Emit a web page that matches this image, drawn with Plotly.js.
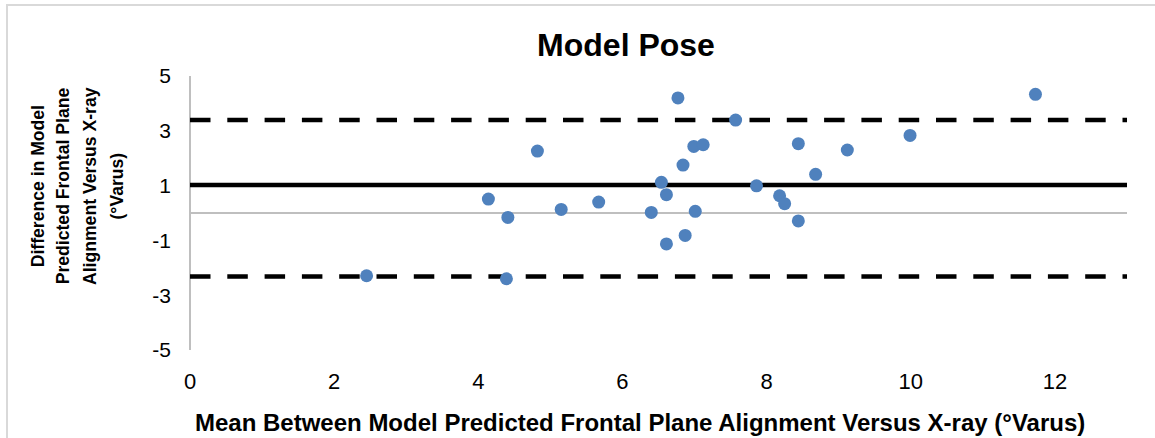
<!DOCTYPE html>
<html>
<head>
<meta charset="utf-8">
<script src="https://cdn.plot.ly/plotly-3.0.1.min.js"></script>
<style>
  html, body { margin: 0; padding: 0; background: #ffffff; }
  #wrap { position: relative; width: 1155px; height: 438px; overflow: hidden; }
  #chart { position: absolute; left: 0; top: 0; width: 1155px; height: 438px; }
  #frame { position: absolute; left: 6px; top: 4px; width: 1160px; height: 450px;
           border: 2px solid #D9D9D9; box-sizing: border-box; pointer-events: none; }
</style>
</head>
<body>
<div id="wrap">
  <div id="chart"></div>
  <div id="frame"></div>
</div>
<script>
// ---- Data ----
var meanValues = [6.77, 4.82, 6.84, 6.54, 6.61, 4.14, 4.41, 5.15, 5.67, 6.40, 6.61, 2.45, 4.39,
                  11.73, 7.57, 6.99, 7.12, 8.44, 9.99, 9.12, 8.68, 7.86, 8.18, 8.25, 8.44, 7.01, 6.87];
var diffValues = [4.20, 2.26, 1.75, 1.12, 0.67, 0.51, -0.16, 0.13, 0.40, 0.02, -1.13, -2.29, -2.40,
                  4.33, 3.39, 2.43, 2.49, 2.53, 2.83, 2.30, 1.41, 0.99, 0.63, 0.34, -0.29, 0.06, -0.82];
var lineSpanX = [0, 13];
var meanDiff = 1.02;
var upperLoA = 3.39;
var lowerLoA = -2.32;

var chartTitle = "Model Pose";
var xTitle = "Mean Between Model Predicted Frontal Plane Alignment Versus X-ray (°Varus)";
var yTitleLines = ["Difference in Model", "Predicted Frontal Plane", "Alignment Versus X-ray", "(°Varus)"];
var xTickVals = [0, 2, 4, 6, 8, 10, 12];
var yTickVals = [-5, -3, -1, 1, 3, 5];

var FONT = 'Arial, "Liberation Sans", sans-serif';

var traces = [
  { x: lineSpanX, y: [upperLoA, upperLoA], mode: 'lines', hoverinfo: 'skip',
    line: { color: '#000000', width: 4.5, dash: '20.5px,16.8px' } },
  { x: lineSpanX, y: [lowerLoA, lowerLoA], mode: 'lines', hoverinfo: 'skip',
    line: { color: '#000000', width: 4.5, dash: '20.5px,16.8px' } },
  { x: lineSpanX, y: [meanDiff, meanDiff], mode: 'lines', hoverinfo: 'skip',
    line: { color: '#000000', width: 4.5 } },
  { x: meanValues, y: diffValues, mode: 'markers',
    marker: { color: '#4F81BD', size: 13, line: { width: 0 } } }
];

// plot area in pixels: x 190..1127, y 76..350
var L = 190, R = 1155 - 1127, T = 76, B = 438 - 350;
var plotW = 1155 - L - R, plotH = 438 - T - B;
function px2paperX(px) { return (px - L) / plotW; }
function px2paperY(py) { return (438 - B - py) / plotH; }

var yCenters = [38.3, 63.3, 90, 116.5];
var annotations = yTitleLines.map(function (t, i) {
  return { text: '<b>' + t + '</b>', xref: 'paper', yref: 'paper',
           x: px2paperX(yCenters[i]), y: px2paperY(186), xanchor: 'center', yanchor: 'middle',
           textangle: -90, showarrow: false,
           font: { family: FONT, size: 17.6, color: '#000000' } };
});
annotations.push({ text: '<b>' + xTitle + '</b>', xref: 'paper', yref: 'paper',
  x: px2paperX(640), y: px2paperY(422), xanchor: 'center', yanchor: 'middle',
  showarrow: false, font: { family: FONT, size: 24, color: '#000000' } });

var layout = {
  width: 1155, height: 438,
  margin: { l: L, r: R, t: T, b: B, pad: 0 },
  paper_bgcolor: 'rgba(0,0,0,0)', plot_bgcolor: 'rgba(0,0,0,0)',
  showlegend: false,
  font: { family: FONT, color: '#000000' },
  title: { text: '<b>' + chartTitle + '</b>', x: 626 / 1155, xanchor: 'center', xref: 'container',
           y: 1 - 45 / 438, yanchor: 'middle', yref: 'container',
           font: { family: FONT, size: 32, color: '#000000' } },
  xaxis: { range: [0, 13], tickvals: xTickVals, ticktext: xTickVals.map(String),
           showgrid: false, showline: false, ticks: '', zeroline: true,
           zerolinecolor: '#BFBFBF', zerolinewidth: 1.5,
           tickfont: { family: FONT, size: 22, color: '#000000' }, ticklabelstandoff: 16 },
  yaxis: { range: [-5, 5], tickvals: yTickVals, ticktext: yTickVals.map(String),
           showgrid: false, showline: false, ticks: '', zeroline: true,
           zerolinecolor: '#BFBFBF', zerolinewidth: 1.5,
           tickfont: { family: FONT, size: 21, color: '#000000' }, ticklabelstandoff: 18 },
  annotations: annotations
};

Plotly.newPlot('chart', traces, layout, { displayModeBar: false, staticPlot: true });
</script>
</body>
</html>
